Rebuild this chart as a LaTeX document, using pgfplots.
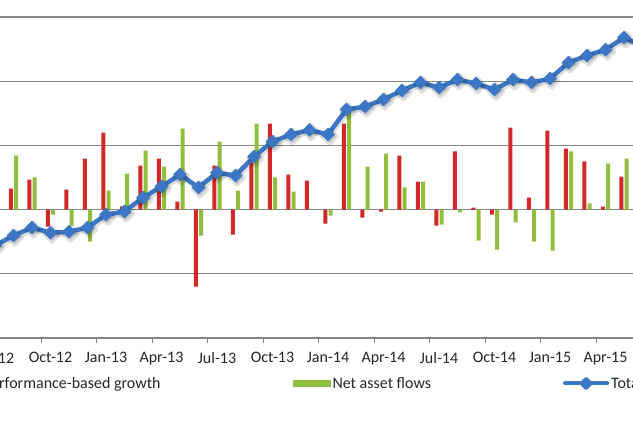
\documentclass[border=0pt]{standalone}
\usepackage{fontspec}
\setmainfont{Carlito}
\usepackage{pgfplots}
\usepackage{pgfplotstable}
\pgfplotsset{compat=1.18}

\definecolor{perfred}{RGB}{210,40,42}
\definecolor{flowgreen}{RGB}{146,190,62}
\definecolor{totalblue}{RGB}{59,119,197}
\definecolor{gridgray}{RGB}{134,134,134}
\definecolor{labelgray}{RGB}{38,38,38}

% months counted from Oct-12 = 0
\pgfplotstableread{
m   perf   flow
-3   nan  -15.0
-2   6.5   16.8
-1   9.3   10.0
0   -5.3   -1.6
1    6.2   -5.0
2   15.9  -10.0
3   24.0    5.9
4    1.0   11.2
5   13.7   18.4
6   15.9   13.4
7    2.5   25.2
8  -24.0   -8.1
9   13.7   21.2
10  -7.8    5.9
11  14.6   26.8
12  26.8   10.0
13  10.9    5.6
14   9.0    0.0
15  -4.4   -1.9
16  26.8   30.5
17  -2.5   13.4
18  -0.6   17.4
19  16.8    6.9
20   8.7    8.7
21  -5.0   -4.7
22  18.1   -0.9
23   0.6   -9.7
24  -1.6  -12.5
25  25.5   -4.0
26   3.7  -10.0
27  24.6  -12.8
28  19.0   18.1
29  15.0    1.9
30   0.9   14.3
31  10.3   15.9
}\monthlyflows

\pgfplotstableread{
m   total
-3  -11.2
-2   -8.1
-1   -5.6
0    -7.2
1    -6.9
2    -5.6
3    -1.6
4    -0.6
5     3.7
6     7.2
7    10.9
8     6.9
9    11.5
10   10.6
11   16.5
12   21.2
13   23.4
14   24.8
15   23.4
16   31.2
17   32.1
18   34.3
19   37.1
20   39.6
21   38.0
22   40.5
23   39.3
24   37.4
25   40.5
26   39.6
27   40.8
28   45.8
29   48.0
30   49.8
31   53.6
32   50.8
}\totalaum

\begin{document}
\begin{tikzpicture}[font=\fontsize{16pt}{19pt}\selectfont]
\path[use as bounding box] (0,0) rectangle (633pt,422pt);
\begin{axis}[
  at={(-42pt,84pt)}, anchor=south west,
  scale only axis, width=703pt, height=385.2pt,
  xmin=-5, xmax=33, ymin=-40, ymax=80,
  axis lines*=left,
  axis line style={gridgray, line width=1.1pt},
  xtick={-3,0,...,30},
  xticklabels={Jul-12,Oct-12,Jan-13,Apr-13,Jul-13,Oct-13,Jan-14,Apr-14,Jul-14,Oct-14,Jan-15,Apr-15},
  minor xtick={-3.5,-0.5,...,32.5},
  major tick length=0pt,
  minor tick length=5pt,
  tick align=outside,
  xtick style={gridgray, line width=1.1pt},
  ytick={-40,-20,...,80},
  yticklabels={},
  ytick style={draw=none},
  ymajorgrids,
  grid style={gridgray, line width=1.1pt},
  xticklabel style={labelgray, font=\fontsize{16pt}{19pt}\selectfont, yshift=-11pt},
  legend columns=3,
  legend cell align=left,
  legend style={at={(axis description cs:-0.0213,-0.1181)}, anchor=west,
    draw=none, fill=none, inner sep=0pt,
    font=\fontsize{16pt}{19pt}\selectfont, text=labelgray,
    /tikz/every even column/.append style={column sep=130pt}},
]
\addplot[ybar, bar width=4pt, bar shift=-2.6pt, fill=perfred, draw=none,
  legend image code/.code={\fill[perfred] (0pt,-3.5pt) rectangle (38pt,3.5pt);}]
  table[x=m, y=perf] {\monthlyflows};
\addlegendentry{Performance-based growth}
\addplot[ybar, bar width=4pt, bar shift=2.6pt, fill=flowgreen, draw=none,
  legend image code/.code={\fill[flowgreen] (0pt,-3.5pt) rectangle (38pt,3.5pt);}]
  table[x=m, y=flow] {\monthlyflows};
\addlegendentry{Net asset flows}
% soft drop shadow under the total line
\addplot[black, opacity=0.12, line width=5pt, line join=round, xshift=1.5pt, yshift=-2pt,
  mark=square*, mark size=4.6pt, mark options={rotate=45}, forget plot]
  table[x=m, y=total] {\totalaum};
\addplot[totalblue, line width=4.5pt, line join=round,
  mark=square*, mark size=4.6pt, mark options={rotate=45, fill=totalblue, draw=totalblue, line width=0.5pt},
  legend image code/.code={
    \draw[totalblue, line width=4pt, line cap=round] (0pt,0pt) -- (42pt,0pt);
    \fill[totalblue] (21pt,0pt) +(-4pt,0pt) -- +(0pt,4pt) -- +(4pt,0pt) -- +(0pt,-4pt) -- cycle;}]
  table[x=m, y=total] {\totalaum};
\addlegendentry{Total AUM}
\end{axis}
\end{tikzpicture}
\end{document}
